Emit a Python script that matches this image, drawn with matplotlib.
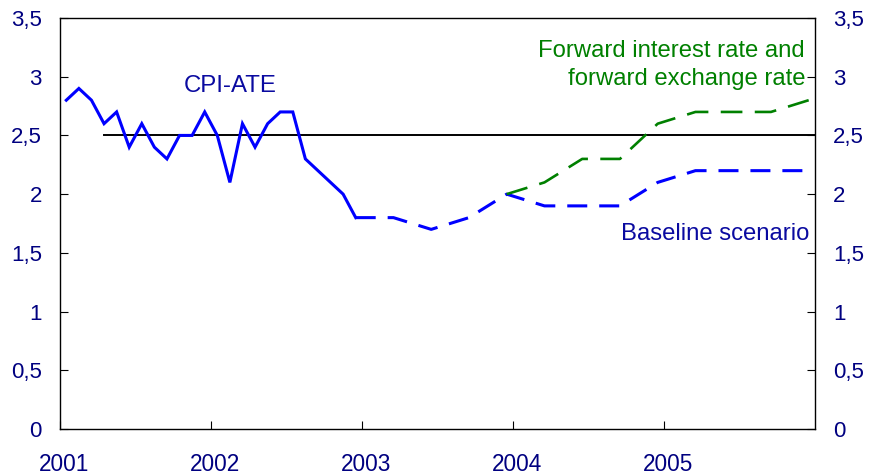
import matplotlib
matplotlib.use("Agg")
import matplotlib.pyplot as plt
import matplotlib.transforms as mtransforms
import numpy as np

# ---- data ----
cpi_start_year = 2001
cpi_ate = [2.8, 2.9, 2.8, 2.6, 2.7, 2.4, 2.6, 2.4, 2.3, 2.5, 2.5, 2.7,
           2.5, 2.1, 2.6, 2.4, 2.6, 2.7, 2.7, 2.3, 2.2, 2.1, 2.0, 1.8]

# quarterly projections, plotted at last month of each quarter
baseline_start = 2002.75  # Q4 2002
baseline = [1.8, 1.8, 1.7, 1.8, 2.0, 1.9, 1.9, 1.9, 2.1, 2.2, 2.2, 2.2, 2.2]
forward_start = 2003.75  # Q4 2003
forward = [2.0, 2.1, 2.3, 2.3, 2.6, 2.7, 2.7, 2.7, 2.8]

target = 2.5
target_from = 2001.29
year_ticks = [2001, 2002, 2003, 2004, 2005]
year_labels = ["2001", "2002", "2003", "2004", "2005"]
y_ticks = [0, 0.5, 1, 1.5, 2, 2.5, 3, 3.5]
y_labels = ["0", "0,5", "1", "1,5", "2", "2,5", "3", "3,5"]

plt.rcParams['font.family'] = ['Liberation Sans', 'DejaVu Sans']
plt.rcParams['lines.scale_dashes'] = False

fig = plt.figure(figsize=(8.69, 4.74), dpi=100)
ax = fig.add_axes([60/869, 1-429/474, 755/869, 411/474])

x_cpi = cpi_start_year + (np.arange(len(cpi_ate)) + 0.5) / 12
x_base = baseline_start + (np.arange(len(baseline)) * 3 + 2.5) / 12
x_fwd = forward_start + (np.arange(len(forward)) * 3 + 2.5) / 12

ax.plot([target_from, 2006], [target, target], color='black', lw=1.4, zorder=2)
ax.plot(x_cpi, cpi_ate, color='#0000FF', lw=2.2, zorder=4, solid_joinstyle='miter')
ax.plot(x_base, baseline, color='#0000FF', lw=2.2, dashes=(14.4, 8.6),
        dash_capstyle='butt', zorder=3)
ax.plot(x_fwd, forward, color='#008000', lw=1.9, dashes=(15.6, 8.9),
        dash_capstyle='butt', zorder=3)

ax.set_xlim(2001, 2006)
ax.set_ylim(0, 3.5)
ax.set_xticks(year_ticks)
ax.set_xticklabels(year_labels)
ax.set_yticks(y_ticks)
ax.set_yticklabels(y_labels)

tick_color = '#000080'
ax.tick_params(axis='x', direction='in', length=5.5, width=0.8, pad=17,
               labelsize=16.3, labelcolor=tick_color)
ax.tick_params(axis='y', direction='in', length=5.8, width=0.8, pad=13,
               labelsize=16, labelcolor=tick_color, right=True, labelright=True)
for s in ax.spines.values():
    s.set_linewidth(1.0)
    s.set_color('black')

offset = mtransforms.ScaledTranslation(4/100, 0, fig.dpi_scale_trans)
for lab in ax.get_xticklabels():
    lab.set_transform(lab.get_transform() + offset)

txt_color = '#0a0aa0'
ax.text(2002.126, 2.92, "CPI-ATE", color=txt_color, fontsize=17.3,
        ha='center', va='center')
ax.text(2005.934, 3.171, "Forward interest rate and", color='#008000',
        fontsize=17.2, ha='right', va='baseline')
ax.text(2005.934, 2.93, "forward exchange rate", color='#008000',
        fontsize=17.2, ha='right', va='baseline')
ax.text(2005.96, 1.61, "Baseline scenario", color=txt_color, fontsize=17.2,
        ha='right', va='baseline')

fig.savefig("out.png", dpi=100)
